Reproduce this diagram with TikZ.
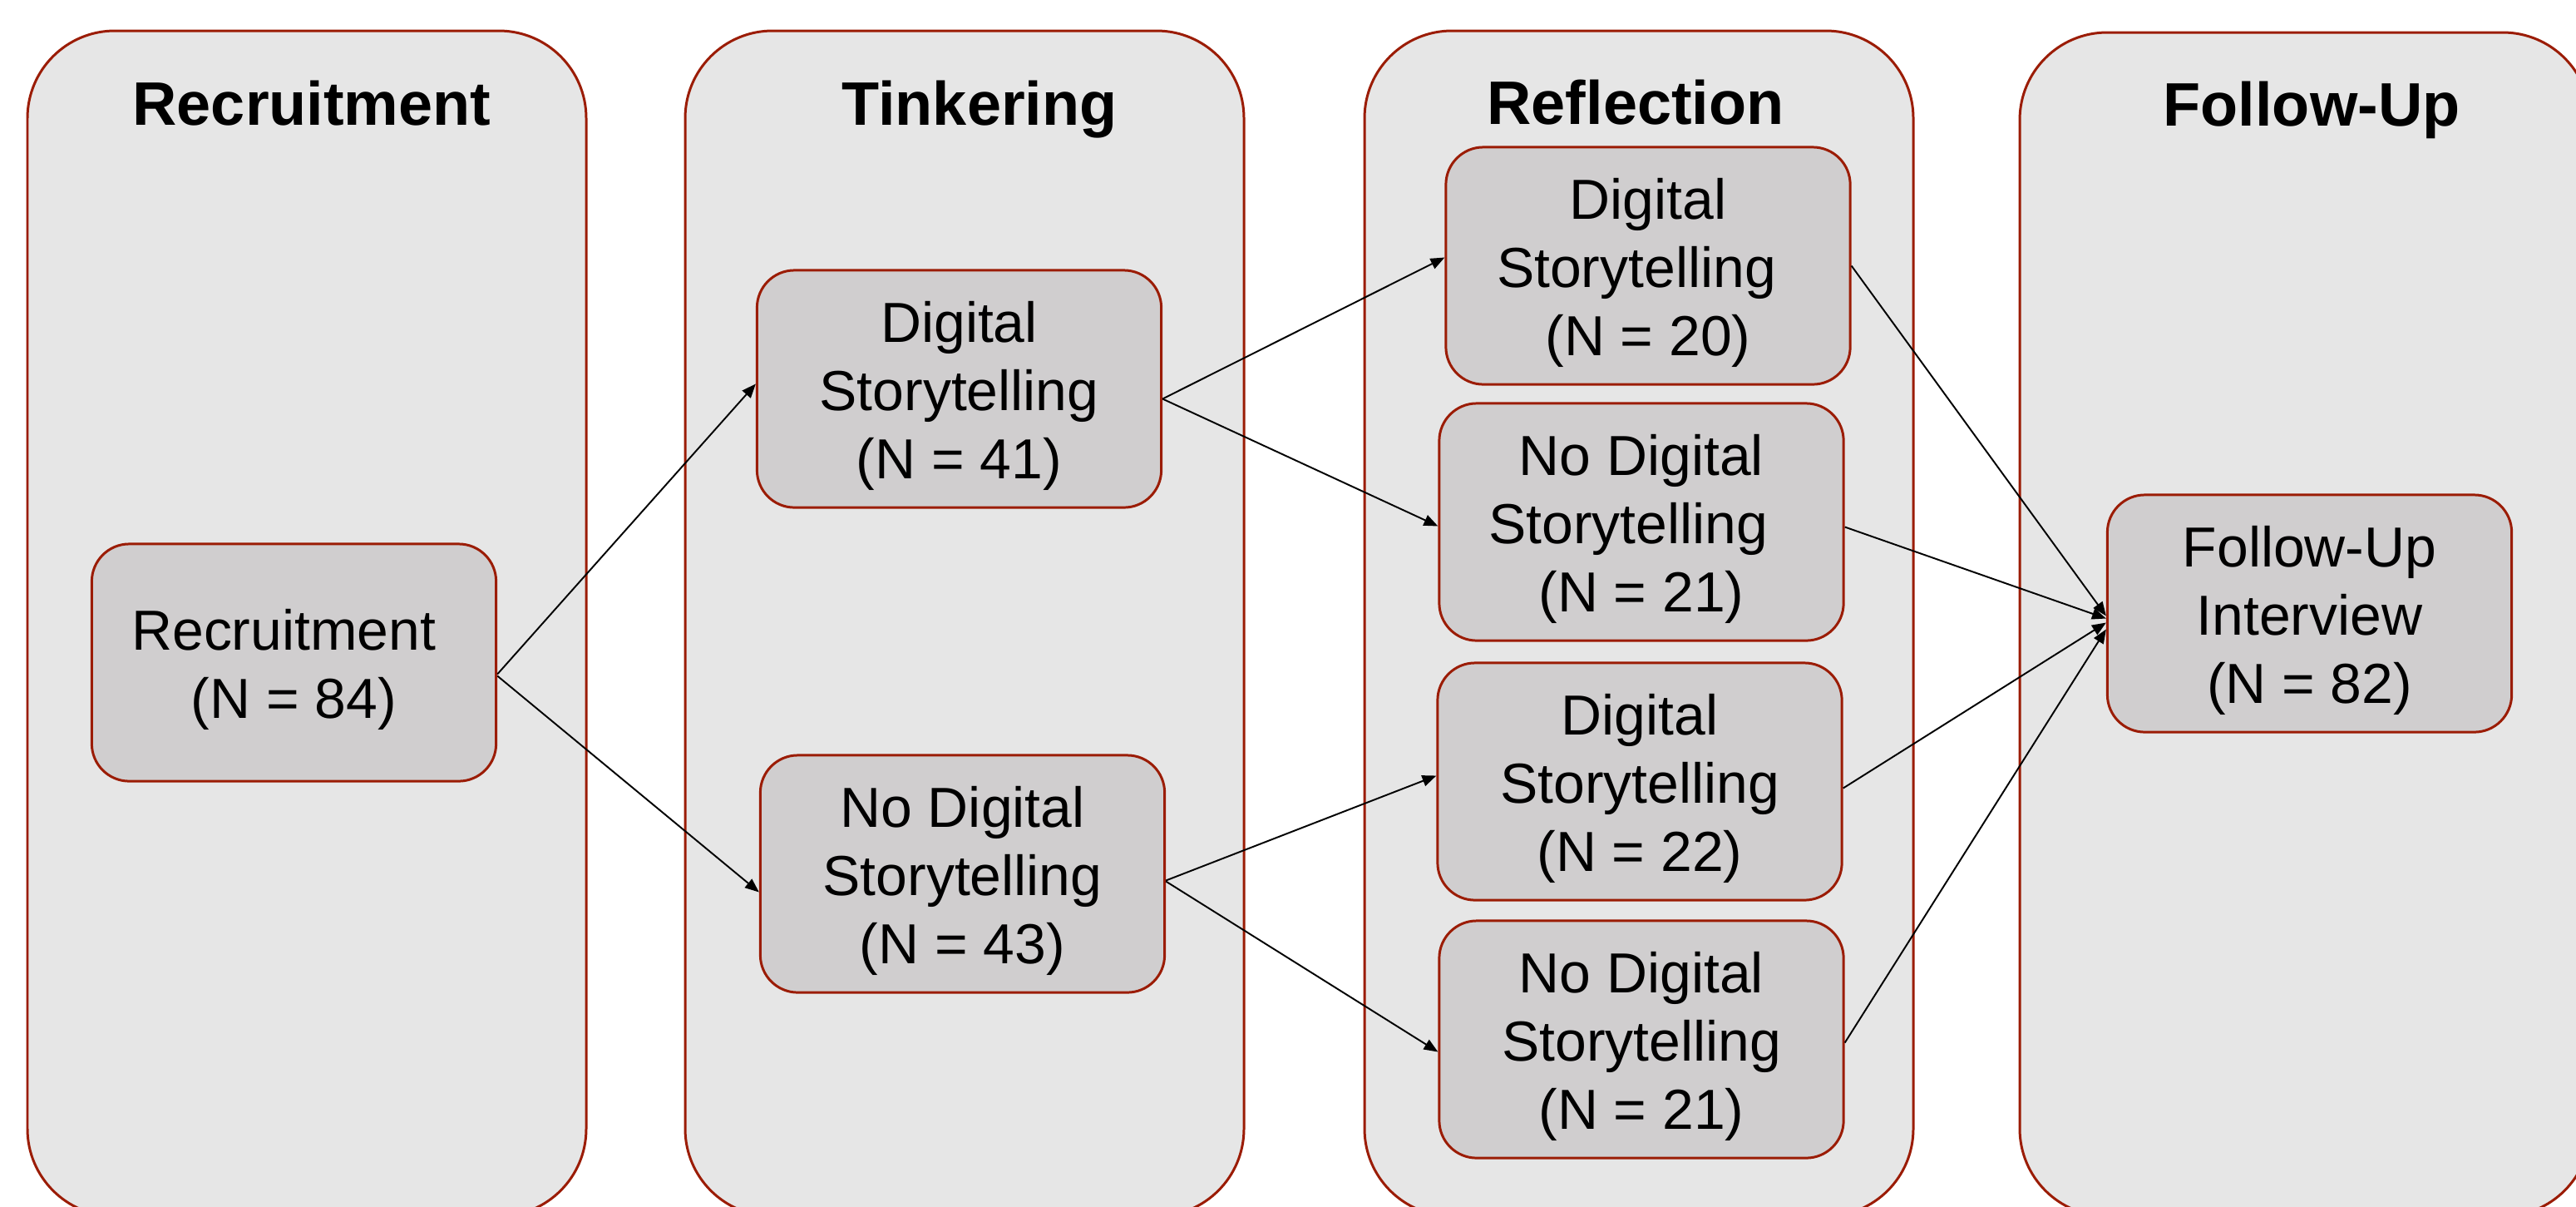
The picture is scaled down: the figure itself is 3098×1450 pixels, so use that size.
\documentclass[tikz,border=0pt]{standalone}
\usepackage{fontspec}
\setmainfont{Liberation Sans}
\usetikzlibrary{arrows.meta,calc}

\definecolor{laneFill}{HTML}{E6E6E6}
\definecolor{boxFill}{HTML}{D0CECF}
\definecolor{edgeRed}{RGB}{155,28,5}

% set a line slightly left of centre without changing its width
\newcommand\leftnudge[2]{\kern-#1\relax#2\kern#1\relax}

\begin{document}
\begin{tikzpicture}[
    x=0.01cm, y=-0.01cm,
    lane/.style={draw=edgeRed, fill=laneFill, line width=0.85pt, rounded corners=1.05cm},
    lanetitle/.style={anchor=base, inner sep=0pt, font=\fontsize{21pt}{25pt}\selectfont\bfseries},
    stagebox/.style={draw=edgeRed, fill=boxFill, line width=0.85pt, rounded corners=0.45cm,
                     minimum width=4.86cm, minimum height=2.85cm, inner sep=0pt},
    stagetext/.style={align=center, inner sep=0pt, font=\fontsize{19.3pt}{23.3pt}\selectfont},
    flow/.style={line width=0.55pt, -{Triangle[length=4.8pt,width=3.8pt]}}
  ]
  \useasboundingbox (0,0) rectangle (3098,1450);
  \fill[white] (0,0) rectangle (3098,1450);
  \clip (0,0) rectangle (3098,1450);

  % phase lanes
  \draw[lane] (33,37) rectangle (705,1462);
  \draw[lane] (824,37) rectangle (1496,1462);
  \draw[lane] (1641,37) rectangle (2301,1462);
  \draw[lane] (2429,39) rectangle (3115,1462);

  \node[lanetitle] (t-rec) at (375,150) {Recruitment};
  \node[lanetitle] (t-tink) at (1178,150) {Tinkering};
  \node[lanetitle] (t-refl) at (1967,149) {Reflection};
  \node[lanetitle] (t-fu) at (2780,151) {Follow-Up};

  % stage boxes
  \node[stagebox] (rec) at (353.5,796.5) {};
  \node[stagebox] (tds) at (1153.5,467.5) {};
  \node[stagebox] (tnds) at (1157.5,1050.5) {};
  \node[stagebox] (rds1) at (1982,319.5) {};
  \node[stagebox] (rnds1) at (1974,627.5) {};
  \node[stagebox] (rds2) at (1972,939.5) {};
  \node[stagebox] (rnds2) at (1974,1249.5) {};
  \node[stagebox] (fu) at (2777.5,737.5) {};

  % stage labels
  \node[stagetext] (rec-t) at ($(rec.center)+(0,8)$) {\leftnudge{3.5pt}{Recruitment}\\(N = 84)};
  \node[stagetext] (tds-t) at ($(tds.center)+(0,8)$) {Digital\\Storytelling\\(N = 41)};
  \node[stagetext] (tnds-t) at ($(tnds.center)+(0,8)$) {No Digital\\Storytelling\\(N = 43)};
  \node[stagetext] (rds1-t) at ($(rds1.center)+(0,8)$) {Digital\\\leftnudge{4pt}{Storytelling}\\(N = 20)};
  \node[stagetext] (rnds1-t) at ($(rnds1.center)+(0,8)$) {No Digital\\\leftnudge{4.5pt}{Storytelling}\\(N = 21)};
  \node[stagetext] (rds2-t) at ($(rds2.center)+(0,8)$) {Digital\\Storytelling\\(N = 22)};
  \node[stagetext] (rnds2-t) at ($(rnds2.center)+(0,8)$) {No Digital\\Storytelling\\(N = 21)};
  \node[stagetext] (fu-t) at ($(fu.center)+(0,8)$) {Follow-Up\\Interview\\(N = 82)};

  % flow connectors
  \draw[flow] ($(rec.east)+(0,14)$) -- ($(tds.west)+(0,-6)$);
  \draw[flow] ($(rec.east)+(0,16)$) -- ($(tnds.west)+(0,22)$);
  \draw[flow] ($(tds.east)+(0,12)$) -- ($(rds1.west)+(0,-10)$);
  \draw[flow] ($(tds.east)+(0,12)$) -- ($(rnds1.west)+(0,5)$);
  \draw[flow] ($(tnds.east)+(0,8)$) -- ($(rds2.west)+(0,-7)$);
  \draw[flow] ($(tnds.east)+(0,9)$) -- ($(rnds2.west)+(0,15)$);
  \draw[flow] (rds1.east) -- ($(fu.west)+(0,3)$);
  \draw[flow] ($(rnds1.east)+(0,6)$) -- ($(fu.west)+(0,6)$);
  \draw[flow] ($(rds2.east)+(0,8)$) -- ($(fu.west)+(0,11)$);
  \draw[flow] ($(rnds2.east)+(0,4)$) -- ($(fu.west)+(0,19)$);
\end{tikzpicture}
\end{document}
